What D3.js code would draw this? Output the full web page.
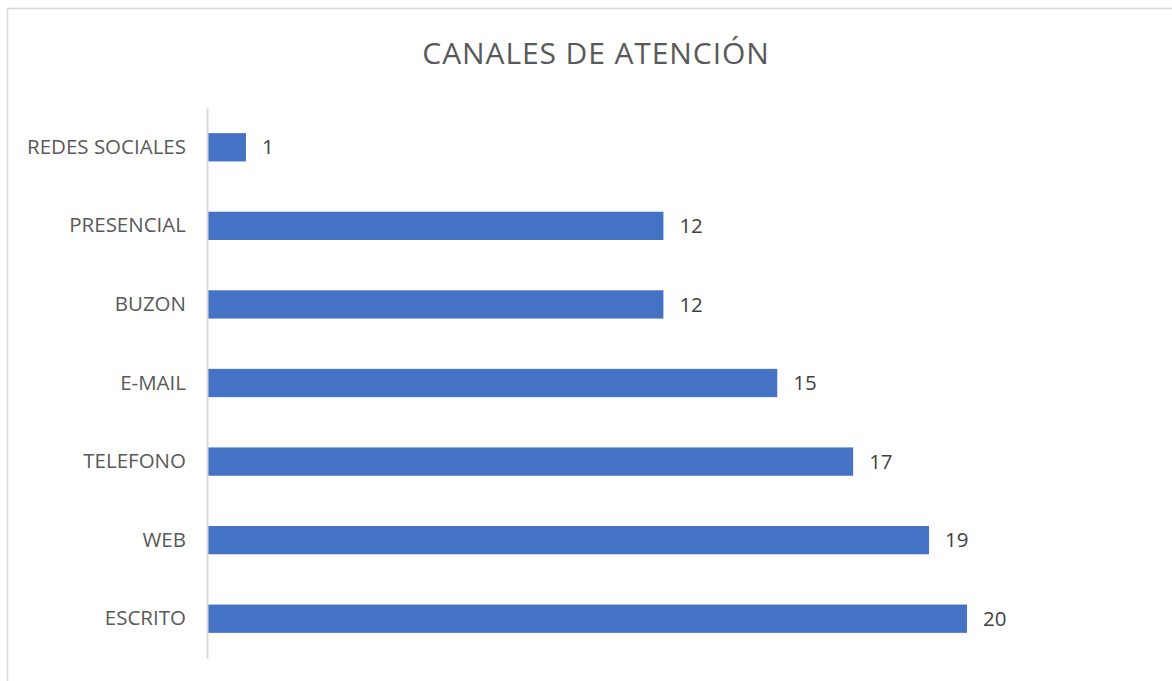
<!DOCTYPE html>
<html lang="es">
<head>
<meta charset="UTF-8">
<title>Canales de atención</title>
<style>
  html, body { margin: 0; padding: 0; background: #fff; }
  svg { display: block; }
</style>
</head>
<body>
<script src="https://d3js.org/d3.v7.min.js"></script>
<div id="chart"></div>
<script>
// data
var categories = ["REDES SOCIALES", "PRESENCIAL", "BUZON", "E-MAIL", "TELEFONO", "WEB", "ESCRITO"];
var values = [1, 12, 12, 15, 17, 19, 20];
var title = "CANALES DE ATENCIÓN";

var W = 1172, H = 681;
var font = "'Open Sans', 'Liberation Sans', sans-serif";

var svg = d3.select("#chart").append("svg")
  .attr("width", W)
  .attr("height", H);

// chart border (cut off on the right and bottom in the reference)
svg.append("rect")
  .attr("x", 7.5).attr("y", 8.5)
  .attr("width", W + 10).attr("height", H + 10)
  .attr("fill", "#fff")
  .attr("stroke", "#d9d9d9")
  .attr("stroke-width", 1.5);

svg.append("text")
  .attr("x", 596).attr("y", 64)
  .attr("text-anchor", "middle")
  .style("font-family", font)
  .style("font-size", "30px")
  .style("letter-spacing", "0.9px")
  .style("fill", "#595959")
  .text(title);

var x = d3.scaleLinear()
  .domain([0, 20])
  .range([208, 967]);

var y = d3.scaleBand()
  .domain(categories)
  .range([108, 658])
  .paddingInner(0.64)
  .paddingOuter(0.32);

// bars
svg.selectAll(".bar")
  .data(values)
  .enter().append("rect")
  .attr("class", "bar")
  .attr("x", x(0))
  .attr("y", function(d, i) { return y(categories[i]); })
  .attr("width", function(d) { return x(d) - x(0); })
  .attr("height", y.bandwidth())
  .attr("fill", "#4472c4");

// value labels
svg.selectAll(".val")
  .data(values)
  .enter().append("text")
  .attr("class", "val")
  .attr("x", function(d) { return x(d) + 16; })
  .attr("y", function(d, i) { return y(categories[i]) + y.bandwidth() / 2; })
  .attr("dy", "0.35em")
  .style("font-family", font)
  .style("font-size", "20.5px")
  .style("fill", "#404040")
  .text(function(d) { return d; });

// category axis
var yAxis = svg.append("g")
  .attr("transform", "translate(" + 207 + ",0)")
  .call(d3.axisLeft(y).tickSize(0).tickPadding(21));

yAxis.select(".domain")
  .attr("stroke", "#d9d9d9")
  .attr("stroke-width", 2);

yAxis.selectAll("text")
  .style("font-family", font)
  .style("font-size", "20.5px")
  .style("fill", "#595959");
</script>
</body>
</html>
